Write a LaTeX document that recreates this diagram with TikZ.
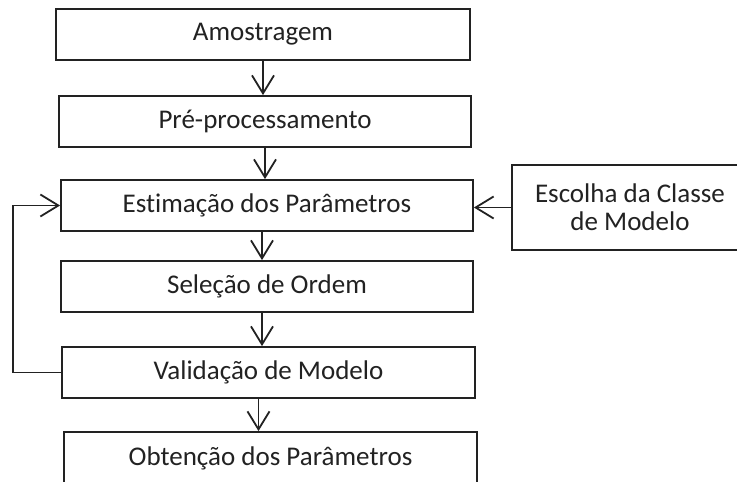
\documentclass[tikz,border=0pt]{standalone}
\usepackage{fontspec}
\setmainfont[Ligatures=NoCommon]{Carlito}
\usetikzlibrary{arrows.meta}
\definecolor{ink}{HTML}{222222}
\tikzset{
  box/.style={draw=ink, line width=1.8pt, text=ink, minimum height=51pt, inner sep=0pt,
     font=\fontsize{27}{28}\selectfont, anchor=center},
  arr/.style={draw=ink, line width=1.8pt, -{Straight Barb[length=18pt,width=22pt,line width=1.8pt]}},
  ln/.style={draw=ink, line width=1.8pt}
}
\begin{document}
\begin{tikzpicture}[x=1pt,y=-1pt]
\clip (0,0) rectangle (737,482);
\fill[white] (0,0) rectangle (737,482);
\node[box, minimum width=414pt] (b1) at (263,34.5) {Amostragem};
\node[box, minimum width=412pt] (b2) at (265,121.5) {Pré-processamento};
\node[box, minimum width=412pt] (b3) at (267,205.5) {Estimação dos Parâmetros};
\node[box, minimum width=412pt] (b4) at (267,286.5) {Seleção de Ordem};
\node[box, minimum width=413pt] (b5) at (268.5,372.5) {Validação de Modelo};
\node[box, minimum width=413pt, minimum height=70pt, text depth=0pt] (b6) at (270.5,467) {};
\node[text=ink, font=\fontsize{27}{28}\selectfont] (t6) at (270.5,458) {Obtenção dos Parâmetros};
\node[box, minimum width=236pt, minimum height=85pt, align=center] (esc) at (630,207.5) {Escolha da Classe\\de Modelo};
\draw[arr] (b1.south) -- (b1.south |- b2.north);
\draw[arr] (b2.south) -- (b2.south |- b3.north);
\draw[arr] ([xshift=-5pt]b3.south) -- ([xshift=-5pt]b3.south |- b4.north);
\draw[arr] ([xshift=-5pt]b4.south) -- ([xshift=-5pt]b4.south |- b5.north);
\draw[arr] ([xshift=-10pt]b5.south) -- ([xshift=-10pt]b5.south |- b6.north);
\coordinate (fb) at ([xshift=-48pt]b5.west);
\draw[arr] (b5.west) -- (fb) |- (b3.west);
\draw[arr] (esc.west) -- (esc.west -| b3.east);
\end{tikzpicture}
\end{document}
